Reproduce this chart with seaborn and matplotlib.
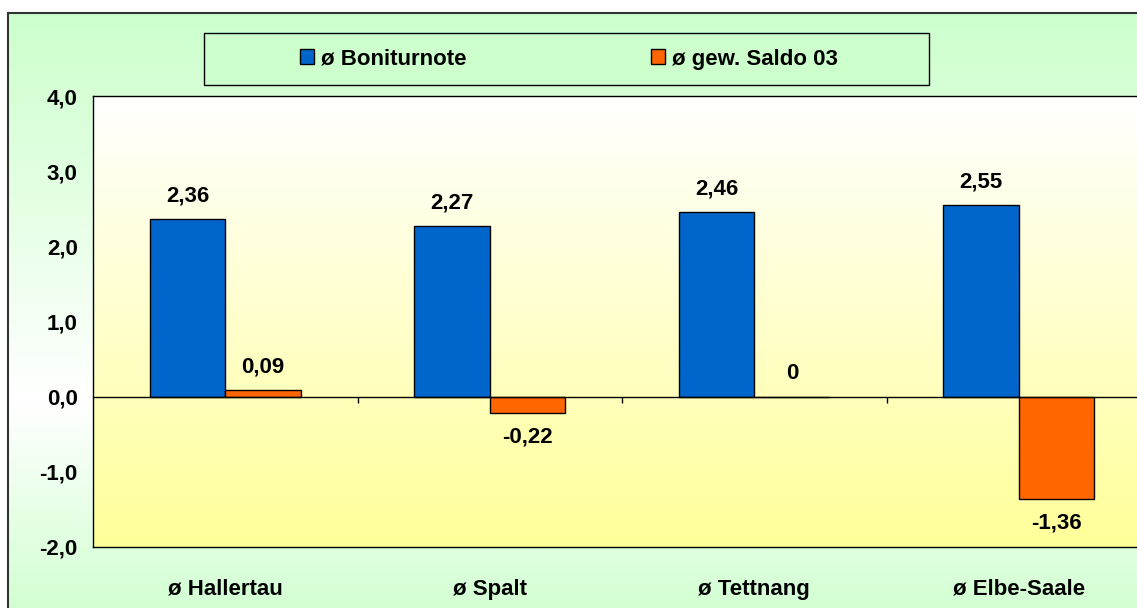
import numpy as np
import pandas as pd
import matplotlib
matplotlib.use("Agg")
import matplotlib.pyplot as plt
import matplotlib.patches as mpatches
from matplotlib.colors import LinearSegmentedColormap
import seaborn as sns

# data
regions = ["ø Hallertau", "ø Spalt", "ø Tettnang", "ø Elbe-Saale"]
boniturnote = [2.36, 2.27, 2.46, 2.55]
saldo = [0.09, -0.22, 0.0, -1.36]
series = ["ø Boniturnote", "ø gew. Saldo 03"]
yticks = [-2, -1, 0, 1, 2, 3, 4]

df = pd.DataFrame({
    "Region": regions * 2,
    "Serie": [series[0]] * 4 + [series[1]] * 4,
    "Wert": boniturnote + saldo,
})

sns.set_theme(style="white")
plt.rcParams["font.family"] = ["Liberation Sans", "DejaVu Sans"]
plt.rcParams["font.weight"] = "bold"
plt.rcParams["text.color"] = "black"
plt.rcParams["xtick.color"] = "black"
plt.rcParams["ytick.color"] = "black"

FS = 16
W, H = 1137, 608
fig = plt.figure(figsize=(W / 100, H / 100), dpi=100)
fig.patch.set_facecolor("white")

# figure background: green -> white -> green (vertical)
bg = fig.add_axes([0, 0, 1, 1], zorder=-10)
bg.axis("off")
green_cmap = LinearSegmentedColormap.from_list(
    "gw", [(0, "#CCFFCC"), (0.62, "#FFFFFF"), (1, "#CCFFCC")])
grad = np.linspace(0, 1, 256).reshape(-1, 1)
top = 1 - 13 / H
left = 8 / W
bg.imshow(grad, aspect="auto", cmap=green_cmap,
          extent=[left, 1.02, -0.05, top], origin="upper")
bg.set_xlim(0, 1)
bg.set_ylim(0, 1)
bg.add_patch(mpatches.Rectangle((left, -0.05), 1.1, top + 0.05,
                                fill=False, edgecolor="#333333", lw=1.5))

# legend frame
bg.add_patch(mpatches.Rectangle((204 / W, 1 - 85 / H), 725 / W, 52 / H,
                                facecolor="#CCFFCC", edgecolor="black", lw=1))

ax = fig.add_axes([93 / W, (H - 547) / H, (1151 - 93) / W, (547 - 96) / H])

# plot area background: white -> yellow
yellow_cmap = LinearSegmentedColormap.from_list("wy", ["#FFFFFF", "#FFFF99"])
ax.imshow(grad, aspect="auto", cmap=yellow_cmap,
          extent=[-0.5, 3.5, -2, 4], origin="upper", zorder=0)

sns.barplot(data=df, x="Region", y="Wert", hue="Serie", order=regions,
            hue_order=series, palette=["#0066CC", "#FF6600"], saturation=1,
            width=0.57, edgecolor="black", linewidth=1, ax=ax, zorder=3)

handles, labels = ax.get_legend_handles_labels()
ax.get_legend().remove()

ax.set_xlim(-0.5, 3.5)
ax.set_ylim(-2, 4)
ax.axhline(0, color="black", lw=1, zorder=4)
ax.vlines([0.5, 1.5, 2.5], -0.09, 0, color="black", lw=1, zorder=4)

ax.set_yticks(yticks)
ax.set_yticklabels([f"{v:.1f}".replace(".", ",") for v in yticks])
ax.tick_params(axis="y", length=0, pad=11, labelsize=FS)
ax.tick_params(axis="x", length=0, pad=23, labelsize=FS)
for lab in ax.get_xticklabels() + ax.get_yticklabels():
    lab.set_fontweight("bold")
ax.set_xlabel("")
ax.set_ylabel("")
for s in ["left", "top", "bottom", "right"]:
    ax.spines[s].set_color("black")
    ax.spines[s].set_linewidth(1)

# data labels
for cont in ax.containers:
    for bar in cont:
        v = bar.get_height()
        xc = bar.get_x() + bar.get_width() / 2
        txt = "0" if v == 0 else f"{v:.2f}".replace(".", ",")
        off = 23 if v >= 0 else -24
        ax.annotate(txt, (xc, v), xytext=(0, off * 0.72), textcoords="offset points",
                    ha="center", va="center", fontsize=FS, fontweight="bold",
                    color="black", zorder=5)

fig.legend(handles, labels, loc="center", bbox_to_anchor=(569 / W, 1 - 59 / H),
           ncol=2, frameon=False, handlelength=0.63, handleheight=0.63,
           handletextpad=0.32, columnspacing=8.3, prop={"weight": "bold", "size": FS})

fig.savefig("out.png", dpi=100)
